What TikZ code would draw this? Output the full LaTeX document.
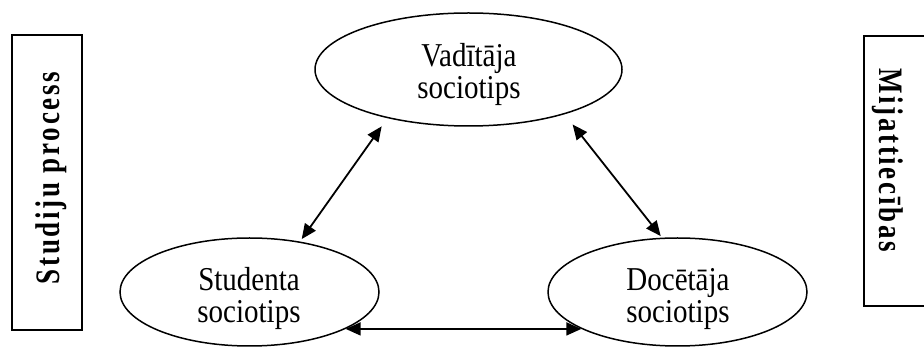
\documentclass[tikz,border=0pt]{standalone}
\usepackage{fontspec}
\setmainfont{Liberation Serif}
\newfontfamily\sidefont[LetterSpace=10]{Liberation Serif}
\usetikzlibrary{arrows.meta,shapes.geometric}

% tall two-line label used inside the ovals
\newcommand{\ovallabel}[2]{\scalebox{1}[1.15]{\begin{tabular}{@{}c@{}}#1\\#2\end{tabular}}}
% tall bold label used in the side frames
\newcommand{\sidelabel}[1]{\scalebox{1}[1.27]{#1}}

\tikzset{
  oval/.style={draw, ellipse, line width=1.5pt, inner sep=0pt},
  ovaltext/.style={font=\fontsize{29}{28}\selectfont, inner sep=0pt},
  sidebox/.style={draw, rectangle, line width=1.6pt, inner sep=0pt},
  sidetext/.style={font=\sidefont\bfseries\fontsize{27}{30}\selectfont, inner sep=0pt},
  link/.style={{Triangle[length=15pt,width=13pt]}-{Triangle[length=15pt,width=13pt]}, line width=1.8pt},
}

\begin{document}
\begin{tikzpicture}[x=1pt, y=-1pt]
  \useasboundingbox (0,0) rectangle (924,347);

  % three sociotypes
  \node[oval, minimum width=307pt, minimum height=113pt] (vad) at (468.5,69.5) {};
  \node[oval, minimum width=259pt, minimum height=108pt] (stu) at (249.5,292) {};
  \node[oval, minimum width=259pt, minimum height=108pt] (doc) at (677.5,292) {};

  \node[ovaltext] (vadt) at (469,76) {\ovallabel{Vadītāja}{sociotips}};
  \node[ovaltext] (stut) at (249,300) {\ovallabel{Studenta}{sociotips}};
  \node[ovaltext] (doct) at (678,300) {\ovallabel{Docētāja}{sociotips}};

  % links between them
  \draw[link, shorten <=10pt, shorten >=3pt] (vad.211.5) -- (stu.45.6);
  \draw[link, shorten <=13pt, shorten >=2pt] (vad.335.3) -- (doc.106.1);
  \draw[link] (stu.-21.4) -- (doc.201.4);

  % side frames
  \node[sidebox, minimum width=70pt, minimum height=295pt] (lbox) at (47,182.5) {};
  \node[sidebox, minimum width=76pt, minimum height=270pt] (rbox) at (902,171) {};

  \node[sidetext, rotate=90] (ltext) at (51,178) {\sidelabel{Studiju process}};
  \node[sidetext, rotate=-90] (rtext) at (888,160) {\sidelabel{Mijattiecības}};
\end{tikzpicture}
\end{document}
